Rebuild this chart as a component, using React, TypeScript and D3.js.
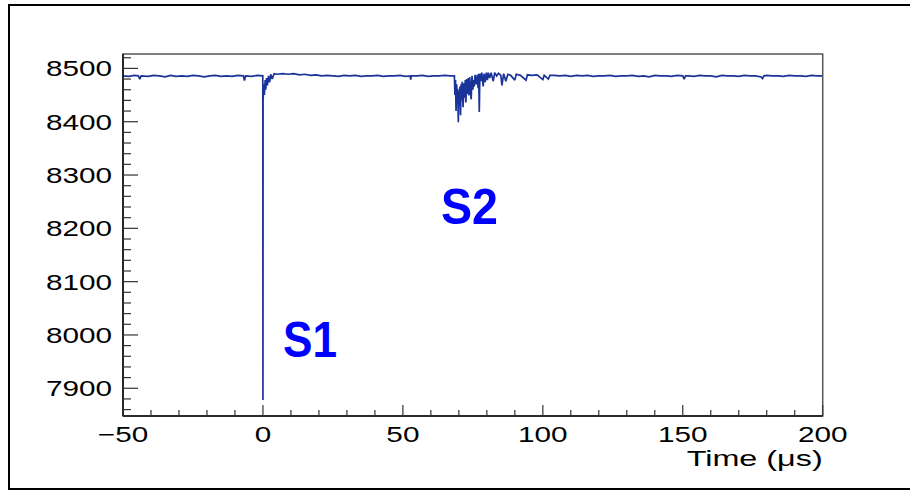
import React from "react";
import * as d3 from "d3";

// ---- Data ----
const xTickValues = [-50, 0, 50, 100, 150, 200];
const yTickValues = [7900, 8000, 8100, 8200, 8300, 8400, 8500];

// baseline before the trigger
const preTrigger: [number, number][] = [
  [-50, 8486], [-48, 8485], [-46, 8487], [-44.5, 8486], [-44, 8480], [-43.5, 8486],
  [-41, 8485], [-39, 8487], [-37, 8486], [-35, 8484], [-33, 8487], [-31, 8485],
  [-29, 8486], [-27, 8485], [-25, 8487], [-23, 8486], [-21, 8484], [-19, 8486],
  [-17, 8487], [-15, 8485], [-13, 8486], [-11, 8485], [-9, 8487], [-7, 8486],
  [-6.6, 8477], [-6.2, 8486], [-4, 8485], [-2, 8487], [-0.05, 8486],
];

// prompt scintillation pulse (S1) and its tail
const s1Pulse: [number, number][] = [
  [0, 7878], [0.05, 8440], [0.3, 8470], [0.5, 8450], [0.8, 8478], [1.0, 8460],
  [1.3, 8482], [1.6, 8468], [2.0, 8486], [2.4, 8474], [2.8, 8489], [3.3, 8480],
  [4.0, 8490],
];

// drift region between S1 and S2
const driftRegion: [number, number][] = [
  [5, 8489], [7, 8490], [9, 8489], [11, 8490], [13, 8488], [15, 8489], [17, 8487],
  [19, 8488], [21, 8486], [23, 8487], [25, 8486], [27, 8485], [29, 8487], [31, 8486],
  [33, 8487], [35, 8485], [37, 8486], [39, 8486], [41, 8487], [43, 8485], [45, 8486],
  [47, 8486], [49, 8487], [51, 8485], [52.6, 8486], [52.8, 8479], [53, 8486], [55, 8486],
  [57, 8487], [59, 8485], [61, 8486], [63, 8486], [65, 8487], [67, 8486],
];

// electroluminescence pulse (S2)
const s2Pulse: [number, number][] = [
  [68.4, 8486], [68.6, 8450], [68.8, 8478], [69.0, 8420], [69.2, 8470], [69.4, 8440],
  [69.6, 8462], [69.8, 8399], [70.0, 8458], [70.2, 8430], [70.4, 8466], [70.6, 8412],
  [70.8, 8470], [71.0, 8440], [71.2, 8475], [71.5, 8427], [71.8, 8472], [72.0, 8445],
  [72.3, 8478], [72.5, 8436], [72.8, 8480], [73.1, 8452], [73.4, 8482], [73.6, 8449],
  [73.9, 8484], [74.2, 8456], [74.4, 8442], [74.7, 8486], [75.0, 8460], [75.2, 8478],
  [75.5, 8466], [75.8, 8488], [76.2, 8470], [76.6, 8488], [76.9, 8463], [77.1, 8490],
  [77.3, 8418], [77.5, 8490], [77.9, 8476], [78.2, 8492], [78.7, 8466], [79.0, 8490],
  [79.4, 8474], [79.8, 8492], [80.2, 8478], [80.5, 8492], [81.0, 8482], [81.5, 8492],
  [82.3, 8476], [82.8, 8492], [83.5, 8486], [84.2, 8491], [85.0, 8487], [85.4, 8468],
  [86.0, 8490], [86.8, 8476], [87.5, 8489], [88.5, 8487], [90.0, 8478], [90.5, 8489],
  [92.0, 8487], [94.0, 8478], [94.5, 8488], [96.0, 8487], [98.0, 8488], [100.0, 8479],
  [100.5, 8487], [102.0, 8480], [102.5, 8487],
];

// baseline after S2
const postPulse: [number, number][] = [
  [104, 8487], [106, 8486], [108, 8487], [110, 8485], [112, 8487], [114, 8486],
  [116, 8487], [118, 8485], [120, 8486], [122, 8486], [124, 8487], [126, 8485],
  [128, 8486], [130, 8486], [132, 8487], [134, 8485], [136, 8486], [138, 8484],
  [140, 8487], [142, 8486], [144, 8486], [146, 8485], [148, 8487], [150, 8486],
  [150.5, 8480], [151, 8486], [152, 8486], [154, 8485], [156, 8487], [158, 8486],
  [160, 8486], [162, 8484], [164, 8487], [166, 8486], [168, 8486], [170, 8485],
  [172, 8487], [174, 8486], [176, 8486], [178, 8484], [178.5, 8481], [179, 8486],
  [180, 8487], [182, 8486], [184, 8486], [186, 8485], [188, 8487], [190, 8486],
  [192, 8486], [194, 8485], [196, 8487], [198, 8486], [200, 8486],
];

const waveform: [number, number][] = [
  ...preTrigger, ...s1Pulse, ...driftRegion, ...s2Pulse, ...postPulse,
];

// ---- Layout ----
const W = 910;
const H = 491;
const frame = { left: 123, right: 822.7, top: 54, bottom: 416 };

export default function App() {
  const x = d3.scaleLinear().domain([-50, 200]).range([frame.left, frame.right]);
  const y = d3.scaleLinear().domain([7848, 8527]).range([frame.bottom, frame.top]);

  const line = d3
    .line<[number, number]>()
    .x((d) => x(d[0]))
    .y((d) => y(d[1]));

  const xMinor = d3.range(-50, 200.001, 10);
  const yMinor = d3.range(7860, 8527, 20);

  const font = "'Liberation Sans', Arial, Helvetica, sans-serif";
  const sx = 1.35;

  return (
    <svg
      width={W}
      height={H}
      style={{ position: "absolute", left: 0, top: 0, background: "#fff" }}
    >
      <rect x={0} y={0} width={W} height={H} fill="#fff" />
      {/* outer canvas border */}
      <rect x={9} y={5} width={W + 10} height={484} fill="none" stroke="#000" strokeWidth={2} />

      <defs>
        <clipPath id="plotClip">
          <rect
            x={frame.left}
            y={frame.top}
            width={frame.right - frame.left}
            height={frame.bottom - frame.top}
          />
        </clipPath>
      </defs>

      {/* waveform */}
      <path
        d={line(waveform) || ""}
        fill="none"
        stroke="#1a3399"
        strokeWidth={1.7}
        strokeLinejoin="miter"
        strokeMiterlimit={2}
        clipPath="url(#plotClip)"
      />

      {/* frame */}
      <rect
        x={frame.left}
        y={frame.top}
        width={frame.right - frame.left}
        height={frame.bottom - frame.top}
        fill="none"
        stroke="#555"
        strokeWidth={1.5}
      />
      <line x1={frame.left} x2={frame.left} y1={frame.top} y2={frame.bottom} stroke="#111" strokeWidth={1.6} />
      <line x1={frame.left} x2={frame.right} y1={frame.bottom} y2={frame.bottom} stroke="#111" strokeWidth={1.6} />

      {/* y ticks */}
      {yMinor.map((v) => {
        const major = v % 100 === 0;
        return (
          <line
            key={"ym" + v}
            x1={frame.left}
            x2={frame.left + (major ? 15 : 8)}
            y1={y(v)}
            y2={y(v)}
            stroke="#333"
            strokeWidth={1.2}
          />
        );
      })}
      {/* x ticks */}
      {xMinor.map((v) => {
        const major = Math.abs(v) % 50 === 0;
        return (
          <line
            key={"xm" + v}
            x1={x(v)}
            x2={x(v)}
            y1={frame.bottom}
            y2={frame.bottom - (major ? 11 : 6)}
            stroke="#333"
            strokeWidth={1.2}
          />
        );
      })}

      {/* y tick labels */}
      {yTickValues.map((v) => (
        <text
          key={"yl" + v}
          transform={`translate(112,${y(v) + 8}) scale(${sx},1)`}
          textAnchor="end"
          fontFamily={font}
          fontSize={22}
          fill="#000"
        >
          {String(v)}
        </text>
      ))}
      {/* x tick labels */}
      {xTickValues.map((v) => (
        <text
          key={"xl" + v}
          transform={`translate(${x(v)},442) scale(${sx},1)`}
          textAnchor="middle"
          fontFamily={font}
          fontSize={22}
          fill="#000"
        >
          {v < 0 ? "\u2212" + Math.abs(v) : String(v)}
        </text>
      ))}
      {/* axis title */}
      <text
        x={frame.right - 136}
        y={466}
        fontFamily={font}
        fontSize={22}
        fill="#000"
        textLength={136}
        lengthAdjust="spacingAndGlyphs"
      >
        Time (μs)
      </text>

      {/* annotations */}
      <text
        x={283}
        y={357}
        fontFamily={font}
        fontWeight="bold"
        fontSize={50}
        fill="#0000ff"
        textLength={54}
        lengthAdjust="spacingAndGlyphs"
      >
        S1
      </text>
      <text
        x={441}
        y={224}
        fontFamily={font}
        fontWeight="bold"
        fontSize={50}
        fill="#0000ff"
        textLength={57}
        lengthAdjust="spacingAndGlyphs"
      >
        S2
      </text>
    </svg>
  );
}
